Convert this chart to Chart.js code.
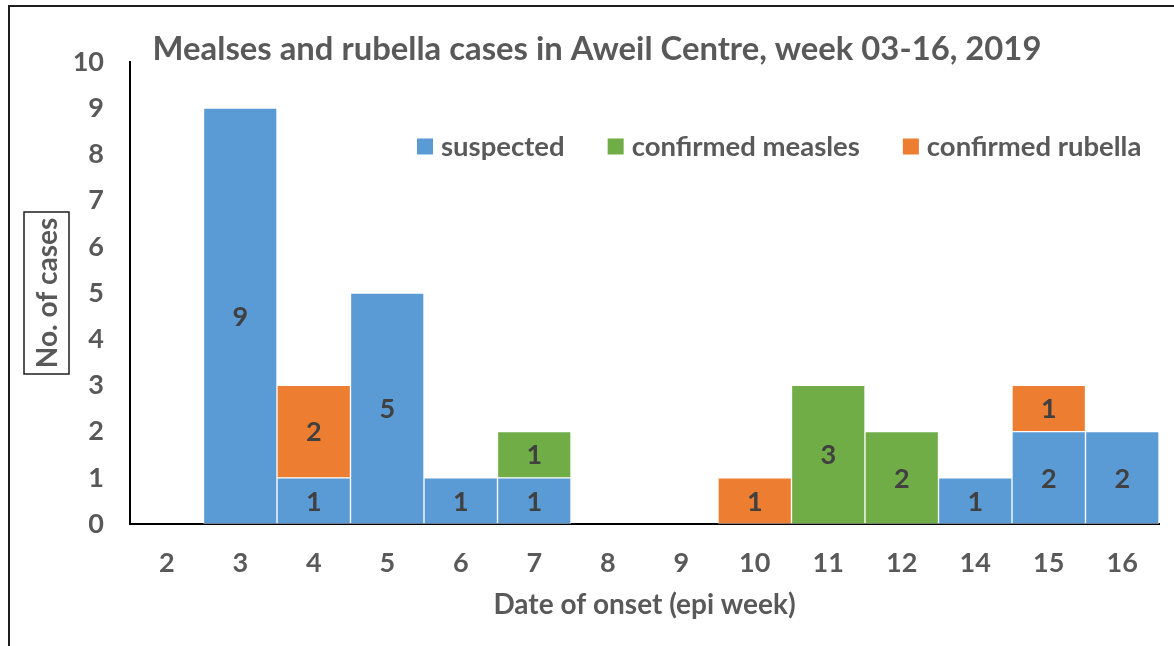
<!DOCTYPE html>
<html>
<head>
<meta charset="utf-8">
<script src="https://cdn.jsdelivr.net/npm/chart.js@4/dist/chart.umd.min.js"></script>
<style>
  html, body { margin: 0; padding: 0; background: #fff; overflow: hidden; }
  #frame { position: absolute; left: 8px; top: 5px; width: 1200px; height: 700px; border: 2px solid #1e1e1e; box-sizing: border-box; }
  #wrap { position: absolute; left: 0; top: 0; width: 1174px; height: 646px; }
</style>
</head>
<body>
<div id="frame"></div>
<div id="wrap"><canvas id="chart" width="1174" height="646"></canvas></div>
<script>
// data
const weeks = ['2', '3', '4', '5', '6', '7', '8', '9', '10', '11', '12', '14', '15', '16'];
const suspected = [0, 9, 1, 5, 1, 1, 0, 0, 0, 0, 0, 1, 2, 2];
const confirmedMeasles = [0, 0, 0, 0, 0, 1, 0, 0, 0, 3, 2, 0, 0, 0];
const confirmedRubella = [0, 0, 2, 0, 0, 0, 0, 0, 1, 0, 0, 0, 1, 0];
const seriesNames = ['suspected', 'confirmed measles', 'confirmed rubella'];
const yMin = 0, yMax = 10, yStep = 1;

const titleText = 'Mealses and rubella cases in Aweil Centre, week 03-16, 2019';
const xTitle = 'Date of onset (epi week)';
const yTitle = 'No. of cases';

const FONT = 'Lato, "Noto Sans", sans-serif';
const GREY = '#595959';

// bar values in the middle of each segment
const valueLabels = {
  id: 'valueLabels',
  afterDatasetsDraw(chart) {
    const ctx = chart.ctx;
    ctx.save();
    ctx.font = 'bold 27px ' + FONT;
    ctx.fillStyle = '#404040';
    ctx.textAlign = 'center';
    ctx.textBaseline = 'middle';
    chart.data.datasets.forEach((ds, i) => {
      chart.getDatasetMeta(i).data.forEach((bar, j) => {
        const v = ds.data[j];
        if (!v) return;
        ctx.fillText(String(v), bar.x, (bar.y + bar.base) / 2 + 1);
      });
    });
    ctx.restore();
  }
};

// title, boxed y title and legend inside the plot
const decorations = {
  id: 'decorations',
  afterDraw(chart) {
    const ctx = chart.ctx;
    ctx.save();
    ctx.fillStyle = GREY;
    ctx.textBaseline = 'middle';

    ctx.font = 'bold 32.8px ' + FONT;
    ctx.textAlign = 'center';
    ctx.fillText(titleText, 597, 49);

    // y title
    ctx.save();
    ctx.translate(46.5, 293);
    ctx.rotate(-Math.PI / 2);
    ctx.font = 'bold 28px ' + FONT;
    ctx.fillText(yTitle, 0, 1);
    ctx.strokeStyle = '#1e1e1e';
    ctx.lineWidth = 1.5;
    ctx.strokeRect(-81, -22.5, 162, 45);
    ctx.restore();

    // legend
    ctx.font = 'bold 27.5px ' + FONT;
    ctx.textAlign = 'left';
    let x = 417;
    const y = 146.5;
    chart.data.datasets.forEach(ds => {
      ctx.fillStyle = ds.backgroundColor;
      ctx.fillRect(x, y - 8, 16, 16);
      x += 24;
      ctx.fillStyle = GREY;
      ctx.fillText(ds.label, x, y + 1);
      x += ctx.measureText(ds.label).width + 43;
    });
    ctx.restore();
  }
};

new Chart(document.getElementById('chart'), {
  type: 'bar',
  data: {
    labels: weeks,
    datasets: [
      { label: seriesNames[0], data: suspected, backgroundColor: '#5B9BD5' },
      { label: seriesNames[1], data: confirmedMeasles, backgroundColor: '#70AD47' },
      { label: seriesNames[2], data: confirmedRubella, backgroundColor: '#ED7D31' }
    ]
  },
  options: {
    responsive: false,
    animation: false,
    layout: { padding: { top: 62, left: 0, right: 15, bottom: 0 } },
    datasets: {
      bar: {
        barPercentage: 1,
        categoryPercentage: 1,
        borderWidth: 1,
        borderColor: 'rgba(255,255,255,0.45)',
        borderSkipped: false
      }
    },
    plugins: {
      legend: { display: false },
      title: { display: false },
      tooltip: { enabled: false }
    },
    scales: {
      x: {
        stacked: true,
        grid: { display: false, drawTicks: false },
        border: { display: true, color: '#000', width: 2 },
        ticks: { color: GREY, font: { family: FONT, size: 27, weight: 'bold' }, padding: 23 },
        title: {
          display: true,
          text: xTitle,
          color: GREY,
          font: { family: FONT, size: 28, weight: 'bold' },
          padding: { top: 0, bottom: 24 }
        },
        afterFit(scale) { scale.height = 122; }
      },
      y: {
        stacked: true,
        min: yMin,
        max: yMax,
        grid: { display: false, drawTicks: false },
        border: { display: true, color: '#000', width: 2 },
        ticks: {
          stepSize: yStep,
          color: GREY,
          font: { family: FONT, size: 27, weight: 'bold' },
          padding: 26
        },
        afterFit(scale) { scale.width = 130; }
      }
    }
  },
  plugins: [valueLabels, decorations]
});
</script>
</body>
</html>
